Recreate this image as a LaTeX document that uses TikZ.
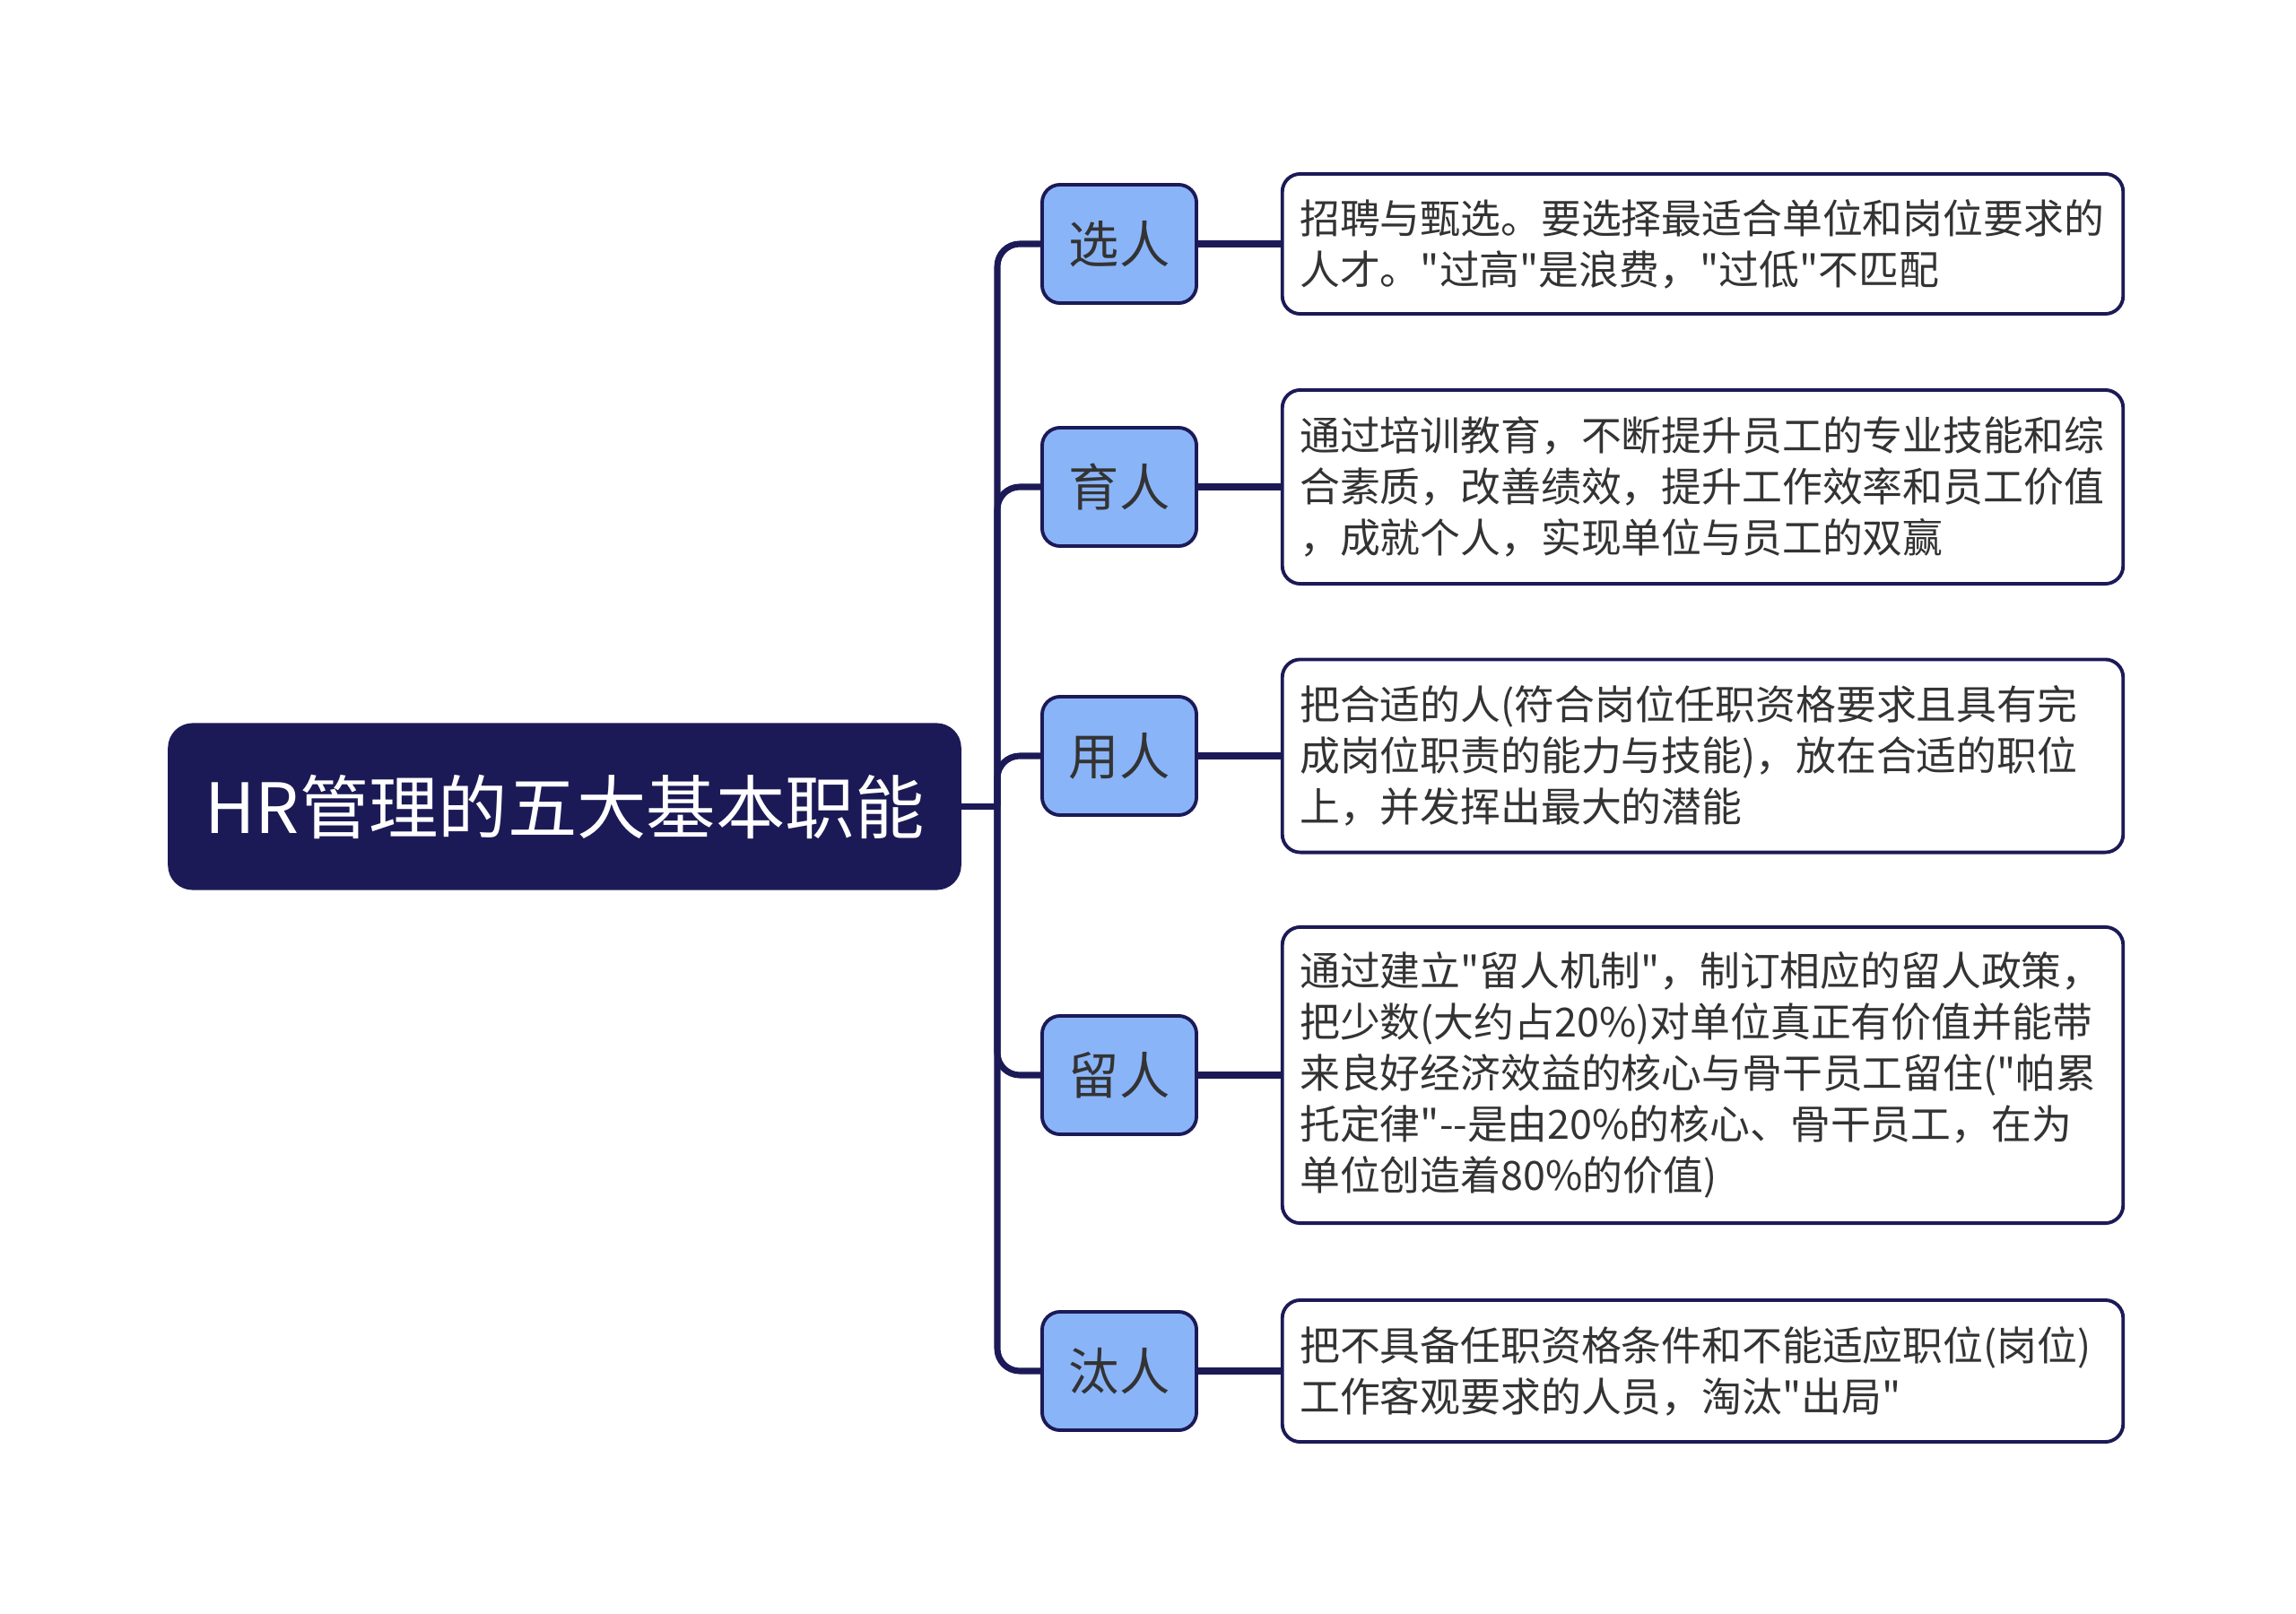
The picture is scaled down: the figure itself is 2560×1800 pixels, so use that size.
\documentclass[tikz,border=0pt]{standalone}
\usepackage{fontspec}
\newfontfamily\cjkfont{Noto Sans CJK SC}
\usetikzlibrary{positioning, calc}
\definecolor{cnavy}{HTML}{1C1A56}
\definecolor{cblue}{HTML}{8AB4F8}
\definecolor{ctext}{HTML}{333333}
\tikzset{
  every picture/.style={font=\cjkfont, line width=2pt},
  root/.style={draw=cnavy, fill=cnavy, text=white, rounded corners=0.24cm, minimum width=8.77cm, minimum height=1.79cm, font=\cjkfont\fontsize{22pt}{26pt}\selectfont},
  topic/.style={draw=cnavy, fill=cblue, text=ctext, rounded corners=0.2cm, line width=1.1pt, minimum width=1.72cm, minimum height=1.32cm, font=\cjkfont\fontsize{16pt}{19pt}\selectfont},
  leaf/.style={draw=cnavy, fill=white, text=ctext, rounded corners=0.2cm, line width=1.1pt, minimum width=9.37cm, text width=8.98cm, inner xsep=0.195cm, align=left, font=\cjkfont\fontsize{12.75pt}{16.2pt}\selectfont},
  link/.style={draw=cnavy, line width=2pt},
}

\begin{document}
\begin{tikzpicture}[x=0.01cm, y=-0.01cm]
  \useasboundingbox (0,0) rectangle (2560,1800);
  \node[root] (hr) at (629.5,899.5) {HR管理的五大基本职能};
  \coordinate (hub) at (1112,899.5);
  \draw[link] (hr.east) -- (hub);
  \foreach \n/\y/\h/\t/\d in {
    1/272/1.56cm/{选人}/{招聘与甄选。要选择最适合单位和岗位要求的\\人才。"过高"是浪费，"过低"不匹配},
    2/543/2.16cm/{育人}/{通过培训教育，不断提升员工的专业技能和综\\合素质，改善绩效，提升工作效率和员工价值\\，成就个人，实现单位与员工的双赢},
    3/843/2.15cm/{用人}/{把合适的人(符合岗位任职资格要求且具有完\\成岗位职责的能力与技能)，放在合适的职位\\上，并发挥出最大的潜能},
    4/1199/3.30cm/{留人}/{通过建立"留人机制"，制订相应的留人政策，\\把少数(大约占20\%)对单位真正有价值并能带\\来良好经济效益的核心与骨干员工留住("帕累\\托定律"--是由20\%的核心、骨干员工，在为\\单位创造着80\%的价值)},
    5/1529/1.58cm/{汰人}/{把不具备任职资格条件和不能适应职位(岗位)\\工作客观要求的人员，淘汰"出局"}} {
    \node[topic] (t\n) at (1248,\y) {\t};
    \node[leaf, minimum height=\h] (d\n) at (1898.5,\y) {\d};
    \draw[link, rounded corners=0.25cm] (hub) |- (t\n.west);
    \draw[link] (t\n.east) -- (d\n.west);
  }
\end{tikzpicture}
\end{document}
